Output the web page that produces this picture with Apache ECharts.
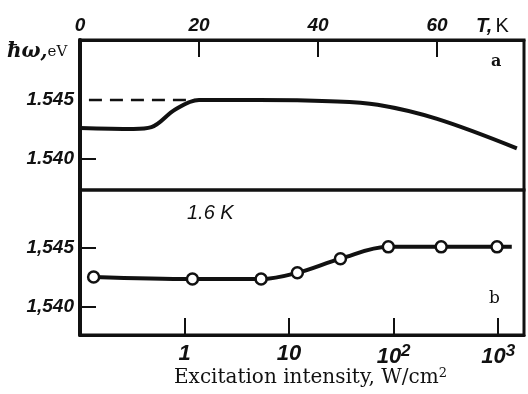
<!DOCTYPE html>
<html>
<head>
<meta charset="utf-8">
<script src="https://cdn.jsdelivr.net/npm/echarts@6/dist/echarts.min.js"></script>
<style>html,body{margin:0;padding:0;background:#fff;}#c{width:528px;height:394px;}</style>
</head>
<body>
<div id="c"></div>
<script>
// Panel a: energy vs temperature
const tempK = [0, 9, 12, 16, 20, 30, 42, 50, 60, 73.4];
const energyA = [1.54263, 1.54255, 1.5427, 1.5442, 1.545, 1.545, 1.5449, 1.5446, 1.5434, 1.5409];
const dashT = [1.5, 20];
const dashE = [1.545, 1.545];
const tempTicks = [0, 20, 40, 60];
// Panel b: energy vs excitation intensity (W/cm2), 1.6 K
const intensity = [0.135, 1.19, 5.4, 12, 31, 89, 285, 975, 1350];
const energyB = [1.54254, 1.54237, 1.54237, 1.5429, 1.5441, 1.5451, 1.5451, 1.5451, 1.5451];
const intensityTicks = [1, 10, 100, 1000];
const intensityLabels = ['1', '10', '10{s|2}', '10{s|3}'];
const energyTicks = [1.540, 1.545];

const chart = echarts.init(document.getElementById('c'));
const italicFont = {fontFamily: 'Liberation Sans', fontStyle: 'italic', fontWeight: 'bold', color: '#111'};
const lineBlack = '#111';

const aLine = tempK.map((t, i) => [t, energyA[i]]);
const aDash = dashT.map((t, i) => [t, dashE[i]]);
const bLine = intensity.map((x, i) => {
  const item = {value: [x, energyB[i]]};
  if (i === intensity.length - 1) item.symbol = 'none';
  return item;
});

chart.setOption({
  animation: false,
  backgroundColor: '#fff',
  grid: [
    {left: 80, right: 4, top: 40, height: 150, show: true, borderColor: lineBlack, borderWidth: 3, backgroundColor: 'transparent'},
    {left: 80, right: 4, top: 190, height: 145, show: true, borderColor: lineBlack, borderWidth: 3, backgroundColor: 'transparent'}
  ],
  xAxis: [
    {
      gridIndex: 0, type: 'value', position: 'top', min: 0, max: 74.6,
      axisLine: {show: true, lineStyle: {color: lineBlack, width: 3}},
      axisTick: {show: true, inside: true, length: 17, customValues: [20, 40, 60], lineStyle: {color: lineBlack, width: 2}},
      axisLabel: Object.assign({fontSize: 19, margin: 5, customValues: tempTicks, showMinLabel: true, formatter: v => String(Math.round(v))}, italicFont),
      splitLine: {show: false}
    },
    {
      gridIndex: 1, type: 'log', logBase: 10, min: 0.1, max: 1767, position: 'bottom',
      axisLine: {show: true, lineStyle: {color: lineBlack, width: 3}},
      axisTick: {show: true, inside: true, length: 17, customValues: intensityTicks, lineStyle: {color: lineBlack, width: 2}},
      axisLabel: Object.assign({
        fontSize: 22, margin: 8, customValues: intensityTicks,
        formatter: v => intensityLabels[intensityTicks.indexOf(Math.round(v))] || '',
        rich: {s: {fontSize: 17, fontFamily: 'Liberation Sans', fontStyle: 'italic', fontWeight: 'bold', color: '#111', verticalAlign: 'top', padding: [0, 0, 10, 0]}}
      }, italicFont),
      splitLine: {show: false}, minorTick: {show: false}
    }
  ],
  yAxis: [
    {
      gridIndex: 0, type: 'value', min: 1.53737, max: 1.5501,
      axisLine: {show: true, lineStyle: {color: lineBlack, width: 4}},
      axisTick: {show: true, inside: true, length: 16, customValues: [1.540], lineStyle: {color: lineBlack, width: 2}},
      axisLabel: Object.assign({fontSize: 19, margin: 6, customValues: energyTicks, formatter: v => v.toFixed(3)}, italicFont),
      splitLine: {show: false}
    },
    {
      gridIndex: 1, type: 'value', min: 1.53763, max: 1.54992,
      axisLine: {show: true, lineStyle: {color: lineBlack, width: 4}},
      axisTick: {show: true, inside: true, length: 16, customValues: energyTicks, lineStyle: {color: lineBlack, width: 2}},
      axisLabel: Object.assign({fontSize: 19, margin: 6, customValues: energyTicks, formatter: v => v.toFixed(3).replace('.', ',')}, italicFont),
      splitLine: {show: false}
    }
  ],
  series: [
    {type: 'line', xAxisIndex: 0, yAxisIndex: 0, data: aDash, symbol: 'none', lineStyle: {color: lineBlack, width: 2.5, type: [13, 8]}},
    {type: 'line', xAxisIndex: 0, yAxisIndex: 0, data: aLine, symbol: 'none', smooth: 0.35, lineStyle: {color: lineBlack, width: 4}},
    {type: 'line', xAxisIndex: 1, yAxisIndex: 1, data: bLine, symbol: 'circle', symbolSize: 11, smooth: 0.35,
      lineStyle: {color: lineBlack, width: 4}, itemStyle: {color: '#fff', borderColor: lineBlack, borderWidth: 2.5}, z: 3}
  ],
  graphic: [
    {type: 'text', left: 7, top: 42, style: {rich: {
      h: {fontFamily: 'DejaVu Serif', fontStyle: 'italic', fontWeight: 'bold', fontSize: 20, fill: '#111'},
      e: {fontFamily: 'DejaVu Serif', fontSize: 15, fill: '#111'}
    }, text: '{h|ħω,}{e|eV}'}},
    {type: 'text', left: 476, top: 16, style: {rich: {
      t: {fontFamily: 'Liberation Sans', fontStyle: 'italic', fontWeight: 'bold', fontSize: 20, fill: '#111'},
      k: {fontFamily: 'Liberation Sans', fontSize: 20, fill: '#111'}
    }, text: '{t|T,} {k|K}'}},
    {type: 'text', left: 491, top: 54, style: {text: 'a', fontFamily: 'DejaVu Serif', fontWeight: 'bold', fontSize: 16, fill: '#111'}},
    {type: 'text', left: 489, top: 290, style: {text: 'b', fontFamily: 'DejaVu Serif', fontSize: 17, fill: '#111'}},
    {type: 'text', left: 187, top: 203, style: {text: '1.6 K', fontFamily: 'Liberation Sans', fontStyle: 'italic', fontSize: 20, fill: '#111'}},
    {type: 'text', left: 174, top: 367, style: {rich: {
      m: {fontFamily: 'DejaVu Serif', fontSize: 20, fill: '#111'},
      s: {fontFamily: 'DejaVu Serif', fontSize: 13, fill: '#111', verticalAlign: 'top', padding: [0, 0, 9, 0]}
    }, text: '{m|Excitation intensity, W/cm}{s|2}'}}
  ]
});
</script>
</body>
</html>
